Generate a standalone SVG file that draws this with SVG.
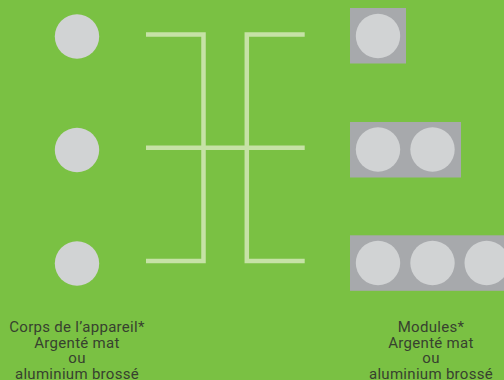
<svg xmlns="http://www.w3.org/2000/svg" width="504" height="380" viewBox="0 0 504 380">
<style>
.c{fill:#d1d3d4}
.m{fill:#a7a9ac}
.l{stroke:#c6e2a6;stroke-width:4.5;fill:none}
.t{font-family:Roboto,"DejaVu Sans Condensed",sans-serif;font-size:15px;letter-spacing:0.3px;fill:#37412f;text-anchor:middle}
</style>
<rect width="504" height="380" fill="#7ac143"/>
<g id="body1"><circle class="c" cx="77" cy="36.5" r="22.2"/></g>
<g id="body2"><circle class="c" cx="77" cy="150" r="22.2"/></g>
<g id="body3"><circle class="c" cx="77" cy="263.5" r="22.2"/></g>
<g id="module1"><rect class="m" x="350" y="8" width="56" height="55.5"/><circle class="c" cx="378" cy="36" r="22.2"/></g>
<g id="module2"><rect class="m" x="350" y="122" width="111" height="55.5"/><circle class="c" cx="378" cy="149.5" r="22.2"/><circle class="c" cx="432.5" cy="149.5" r="22.2"/></g>
<g id="module3"><rect class="m" x="350" y="235.3" width="160" height="55.5"/><circle class="c" cx="378" cy="263" r="22.2"/><circle class="c" cx="432.5" cy="263" r="22.2"/><circle class="c" cx="486.7" cy="263" r="22.2"/></g>
<g id="connectors">
<path class="l" d="M146 34.5H203.5V261H146"/>
<path class="l" d="M304.7 34.5H246.8V261H304.7"/>
<path class="l" d="M146 147.7H304.7"/>
</g>
<g id="label-left">
<text class="t" x="77" y="332">Corps de l’appareil*</text>
<text class="t" x="77" y="347.5">Argenté mat</text>
<text class="t" x="77" y="363">ou</text>
<text class="t" x="77" y="378.5">aluminium brossé</text>
</g>
<g id="label-right">
<text class="t" x="431" y="332">Modules*</text>
<text class="t" x="431" y="347.5">Argenté mat</text>
<text class="t" x="431" y="363">ou</text>
<text class="t" x="431" y="378.5">aluminium brossé</text>
</g>
</svg>
